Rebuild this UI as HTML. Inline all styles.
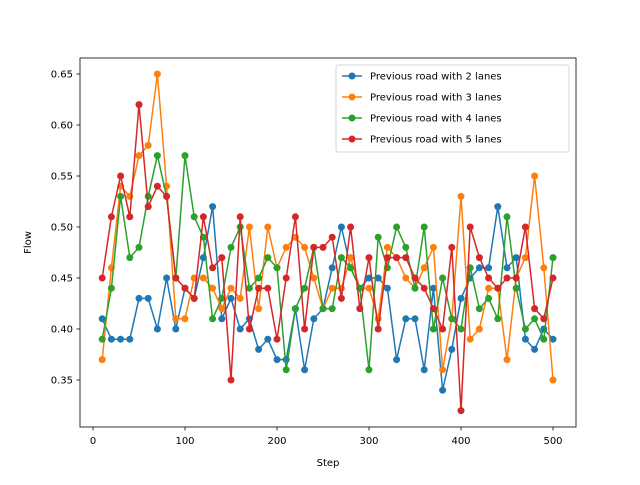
<!DOCTYPE html>
<html><head><meta charset="utf-8"><style>
body{margin:0;background:#fff;font-family:"Liberation Sans","DejaVu Sans",sans-serif}
svg text{font-family:"DejaVu Sans","Liberation Sans",sans-serif;font-size:10px;fill:#000}
</style></head><body>
<svg id="chart" width="640" height="480"></svg>
<script>
const steps=[10,20,30,40,50,60,70,80,90,100,110,120,130,140,150,160,170,180,190,200,210,220,230,240,250,260,270,280,290,300,310,320,330,340,350,360,370,380,390,400,410,420,430,440,450,460,470,480,490,500];
const lanes2=[0.41,0.39,0.39,0.39,0.43,0.43,0.40,0.45,0.40,0.44,0.43,0.47,0.52,0.41,0.43,0.40,0.41,0.38,0.39,0.37,0.37,0.42,0.36,0.41,0.42,0.46,0.50,0.46,0.44,0.45,0.45,0.44,0.37,0.41,0.41,0.36,0.44,0.34,0.38,0.43,0.45,0.46,0.46,0.52,0.46,0.47,0.39,0.38,0.40,0.39];
const lanes3=[0.37,0.46,0.54,0.53,0.57,0.58,0.65,0.54,0.41,0.41,0.45,0.45,0.44,0.42,0.44,0.43,0.50,0.42,0.50,0.46,0.48,0.49,0.48,0.45,0.42,0.44,0.44,0.47,0.44,0.44,0.41,0.48,0.47,0.45,0.44,0.46,0.48,0.36,0.41,0.53,0.39,0.40,0.44,0.44,0.37,0.45,0.47,0.55,0.46,0.35];
const lanes4=[0.39,0.44,0.53,0.47,0.48,0.53,0.57,0.53,0.45,0.57,0.51,0.49,0.41,0.43,0.48,0.50,0.44,0.45,0.47,0.46,0.36,0.42,0.44,0.48,0.42,0.42,0.47,0.46,0.44,0.36,0.49,0.46,0.50,0.48,0.44,0.50,0.40,0.45,0.41,0.40,0.46,0.42,0.43,0.41,0.51,0.44,0.40,0.41,0.39,0.47];
const lanes5=[0.45,0.51,0.55,0.51,0.62,0.52,0.54,0.53,0.45,0.44,0.43,0.51,0.46,0.47,0.35,0.51,0.40,0.44,0.44,0.39,0.45,0.51,0.40,0.48,0.48,0.49,0.43,0.50,0.42,0.47,0.40,0.47,0.47,0.47,0.45,0.44,0.42,0.40,0.48,0.32,0.50,0.47,0.45,0.44,0.45,0.45,0.50,0.42,0.41,0.45];
const xTicks=[0,100,200,300,400,500];
const yTicks=[0.35,0.40,0.45,0.50,0.55,0.60,0.65];
const seriesNames=["Previous road with 2 lanes","Previous road with 3 lanes","Previous road with 4 lanes","Previous road with 5 lanes"];
const colors=["#1f77b4","#ff7f0e","#2ca02c","#d62728"];
const svg=document.getElementById('chart');
const NS="http://www.w3.org/2000/svg";
const L=80,R=576,T=58,B=427;
const xs=v=>93+(v-0)*(460/500);
const ys=v=>380-(v-0.35)*(306/0.30);
function mk(tag,attrs,parent){const e=document.createElementNS(NS,tag);for(const k in attrs)e.setAttribute(k,attrs[k]);(parent||svg).appendChild(e);return e;}
xTicks.forEach(t=>{const g=mk('g',{});


mk('line',{x1:xs(t),x2:xs(t),y1:B,y2:B+3.5,stroke:'#000','stroke-width':0.8},g);
const tx=mk('text',{x:xs(t),y:B+17,'text-anchor':'middle'},g);tx.textContent=t;});
yTicks.forEach(t=>{const g=mk('g',{});


mk('line',{x1:L-3.5,x2:L,y1:ys(t),y2:ys(t),stroke:'#000','stroke-width':0.8},g);
const tx=mk('text',{x:L-7,y:ys(t)+3.5,'text-anchor':'end'},g);tx.textContent=t.toFixed(2);});
const data=[lanes2,lanes3,lanes4,lanes5];
data.forEach((s,i)=>{const g=mk('g',{});


mk('polyline',{points:s.map((v,j)=>xs(steps[j])+','+ys(v)).join(' '),fill:'none',stroke:colors[i],'stroke-width':1.5},g);
s.forEach((v,j)=>{const c=mk('circle',{cx:xs(steps[j]),cy:ys(v),r:3.5,fill:colors[i]},g);

});});
const frame=mk('rect',{x:L,y:T,width:R-L,height:B-T,fill:'none',stroke:'#000','stroke-width':0.8});


const xl=mk('text',{x:(L+R)/2,y:466,'text-anchor':'middle'});xl.textContent='Step';


const yl=mk('text',{x:31,y:(T+B)/2,'text-anchor':'middle',transform:`rotate(-90 31 ${(T+B)/2})`});yl.textContent='Flow';


const lg=mk('g',{});


mk('rect',{x:336,y:65,width:233,height:87,rx:2,fill:'#fff','fill-opacity':0.8,stroke:'#ccc','stroke-width':0.8},lg);
seriesNames.forEach((n,i)=>{const y=76+i*21;const e=mk('g',{},lg);


mk('line',{x1:342,x2:362,y1:y,y2:y,stroke:colors[i],'stroke-width':1.5},e);
mk('circle',{cx:352,cy:y,r:3.5,fill:colors[i]},e);
const t=mk('text',{x:370,y:y+3.5},e);t.textContent=n;});
</script>
</body></html>
